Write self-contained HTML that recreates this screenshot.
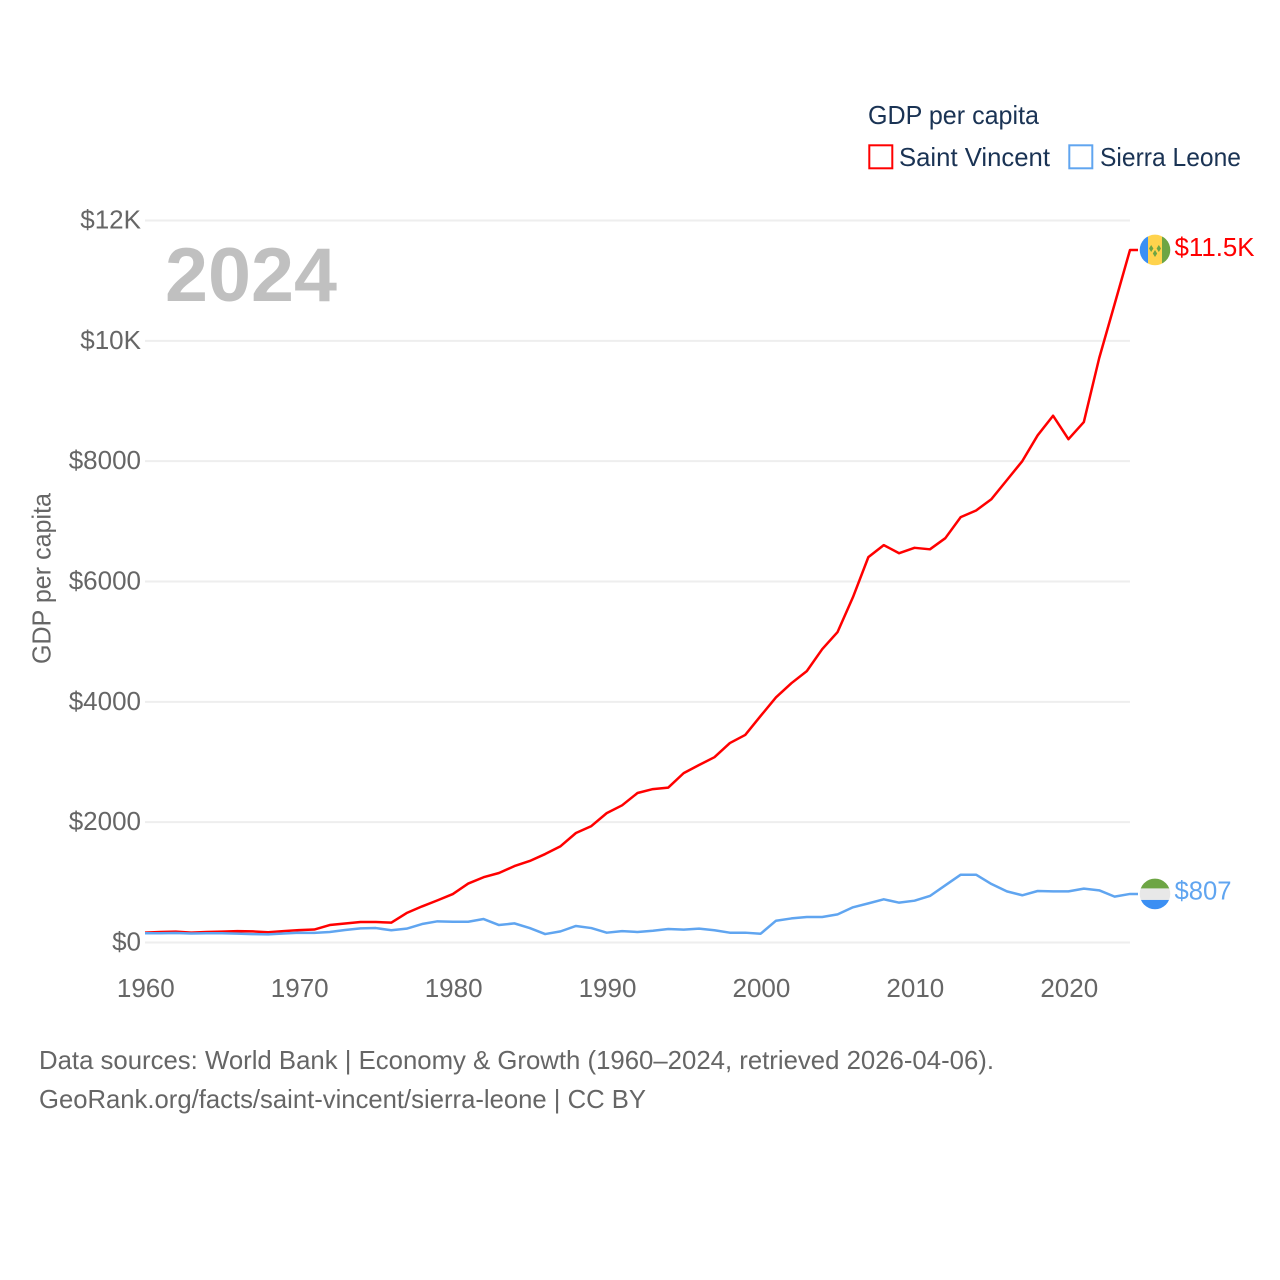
<!DOCTYPE html>
<html lang="en">
<head>
<meta charset="utf-8">
<title>GDP per capita: Saint Vincent vs Sierra Leone</title>
<style>
html,body{margin:0;padding:0;background:#fff;}
svg{display:block;}
text{font-family:"Liberation Sans",sans-serif;}
</style>
</head>
<body>
<svg id="chart" xmlns="http://www.w3.org/2000/svg" width="1280" height="1280" viewBox="0 0 1280 1280">
  <rect x="0" y="0" width="1280" height="1280" fill="#ffffff"/>
  <g id="grid"></g>
  <g id="y-ticks"></g>
  <g id="x-ticks"></g>
  <text x="165" y="301" font-size="76" font-weight="bold" fill="#c0c0c0" textLength="172" lengthAdjust="spacingAndGlyphs">2024</text>
  <text transform="translate(50.5,578.5) rotate(-90)" text-anchor="middle" font-size="26" fill="#666666" textLength="171" lengthAdjust="spacingAndGlyphs">GDP per capita</text>
  <g id="series"></g>

  <defs>
    <clipPath id="flag-clip-vc"><circle cx="0" cy="0" r="15.3"/></clipPath>
    <clipPath id="flag-clip-sl"><circle cx="0" cy="0" r="15.3"/></clipPath>
  </defs>
  <g id="flag-vc">
    <g clip-path="url(#flag-clip-vc)">
      <rect x="-16" y="-16" width="9" height="32" fill="#3b8ff3"/>
      <rect x="-7" y="-16" width="14" height="32" fill="#ffd34d"/>
      <rect x="7" y="-16" width="9" height="32" fill="#6da544"/>
      <polygon points="0,0 2.2,3.5 0,7 -2.2,3.5" fill="#6da544"/>
      <polygon points="-3.8,-5 -1.6,-1.5 -3.8,2 -6,-1.5" fill="#6da544"/>
      <polygon points="3.8,-5 6,-1.5 3.8,2 1.6,-1.5" fill="#6da544"/>
    </g>
  </g>
  <g id="flag-sl">
    <g clip-path="url(#flag-clip-sl)">
      <rect x="-16" y="-16" width="32" height="10.5" fill="#6da544"/>
      <rect x="-16" y="-5.5" width="32" height="11.5" fill="#e8e8e8"/>
      <rect x="-16" y="6" width="32" height="10" fill="#3b8ff3"/>
    </g>
  </g>
  <text id="value-vc" x="1174.5" font-size="26" fill="#ff0000" textLength="80" lengthAdjust="spacingAndGlyphs"></text>
  <text id="value-sl" x="1174.5" font-size="26" fill="#60a5f0" textLength="57" lengthAdjust="spacingAndGlyphs"></text>

  <g>
    <text x="868" y="124" font-size="26" fill="#1a3354" textLength="171" lengthAdjust="spacingAndGlyphs">GDP per capita</text>
    <g>
      <rect x="869.3" y="145.3" width="23" height="23" fill="#ffffff" stroke="#ff0000" stroke-width="2"/>
      <text x="899" y="166" font-size="26" fill="#1a3354" textLength="151" lengthAdjust="spacingAndGlyphs">Saint Vincent</text>
    </g>
    <g>
      <rect x="1069.3" y="145.3" width="23" height="23" fill="#ffffff" stroke="#60a5f0" stroke-width="2"/>
      <text x="1100" y="166" font-size="26" fill="#1a3354" textLength="141" lengthAdjust="spacingAndGlyphs">Sierra Leone</text>
    </g>
  </g>

  <g>
    <text x="39" y="1069" font-size="26" fill="#666666" textLength="955" lengthAdjust="spacingAndGlyphs">Data sources: World Bank | Economy &amp; Growth (1960–2024, retrieved 2026-04-06).</text>
    <text x="39" y="1108" font-size="26" fill="#666666" textLength="607" lengthAdjust="spacingAndGlyphs">GeoRank.org/facts/saint-vincent/sierra-leone | CC BY</text>
  </g>
</svg>
<script>
const firstYear = 1960;
const saintVincentValues = [165,175,180,165,175,180,190,185,170,190,205,215,290,315,340,340,330,490,600,700,805,980,1085,1155,1270,1355,1470,1600,1820,1935,2150,2280,2485,2550,2575,2815,2950,3080,3315,3450,3765,4075,4310,4510,4875,5160,5740,6405,6605,6470,6560,6535,6720,7070,7180,7370,7685,8000,8430,8755,8365,8650,9715,10610,11510];
const sierraLeoneValues = [153,153,158,150,153,153,148,140,135,150,163,160,175,208,235,240,203,230,307,352,345,345,390,290,318,240,140,185,275,240,163,190,175,195,225,213,230,203,163,163,146,362,400,424,424,468,585,650,718,662,695,773,950,1127,1127,972,850,785,856,850,850,895,867,762,807];
const yTickValues = [0,2000,4000,6000,8000,10000,12000];
const yTickLabels = ["$0","$2000","$4000","$6000","$8000","$10K","$12K"];
const xTickValues = [1960,1970,1980,1990,2000,2010,2020];
const endLabels = ["$11.5K","$807"];

const NS = "http://www.w3.org/2000/svg";
const lastYear = firstYear + saintVincentValues.length - 1;
function xScale(year){ return 145 + (year - 1960) * (985 / 64); }
function yScale(value){ return 942.5 - value * (722 / 12000); }
function make(tag, attrs, parent){
  const el = document.createElementNS(NS, tag);
  for (const k in attrs) el.setAttribute(k, attrs[k]);
  parent.appendChild(el);
  return el;
}
const gridG = document.getElementById("grid");
const yG = document.getElementById("y-ticks");
const xG = document.getElementById("x-ticks");
const seriesG = document.getElementById("series");

yTickValues.forEach(function(v, i){
  const line = make("line", {x1:xScale(1960), x2:xScale(2024), y1:yScale(v), y2:yScale(v), stroke:"#eeeeee", "stroke-width":2}, gridG);
  
  
  const t = make("text", {x:141, y:yScale(v)+8, "text-anchor":"end", "font-size":26, fill:"#666666"}, yG);
  
  
  t.textContent = yTickLabels[i];
});
xTickValues.forEach(function(y){
  const t = make("text", {x:xScale(y)+0.8, y:997, "text-anchor":"middle", "font-size":26, fill:"#666666"}, xG);
  
  
  t.textContent = y;
});
function drawSeries(values, color){
  let pts = values.map(function(v, i){ return xScale(firstYear + i).toFixed(2) + "," + yScale(v).toFixed(2); });
  pts.push((xScale(lastYear) + 8).toFixed(2) + "," + yScale(values[values.length-1]).toFixed(2));
  return make("polyline", {points:pts.join(" "), fill:"none", stroke:color, "stroke-width":2.5, "stroke-linejoin":"round"}, seriesG);
}
const redLine = drawSeries(saintVincentValues, "#ff0000");


const blueLine = drawSeries(sierraLeoneValues, "#60a5f0");



const vcEnd = yScale(saintVincentValues[saintVincentValues.length-1]);
const slEnd = yScale(sierraLeoneValues[sierraLeoneValues.length-1]);
document.getElementById("flag-vc").setAttribute("transform", "translate(1155," + vcEnd + ")");
document.getElementById("flag-sl").setAttribute("transform", "translate(1155," + slEnd + ")");
const vcLabel = document.getElementById("value-vc");
vcLabel.setAttribute("y", vcEnd + 6);
vcLabel.textContent = endLabels[0];
const slLabel = document.getElementById("value-sl");
slLabel.setAttribute("y", slEnd + 5.5);
slLabel.textContent = endLabels[1];
</script>
</body>
</html>
